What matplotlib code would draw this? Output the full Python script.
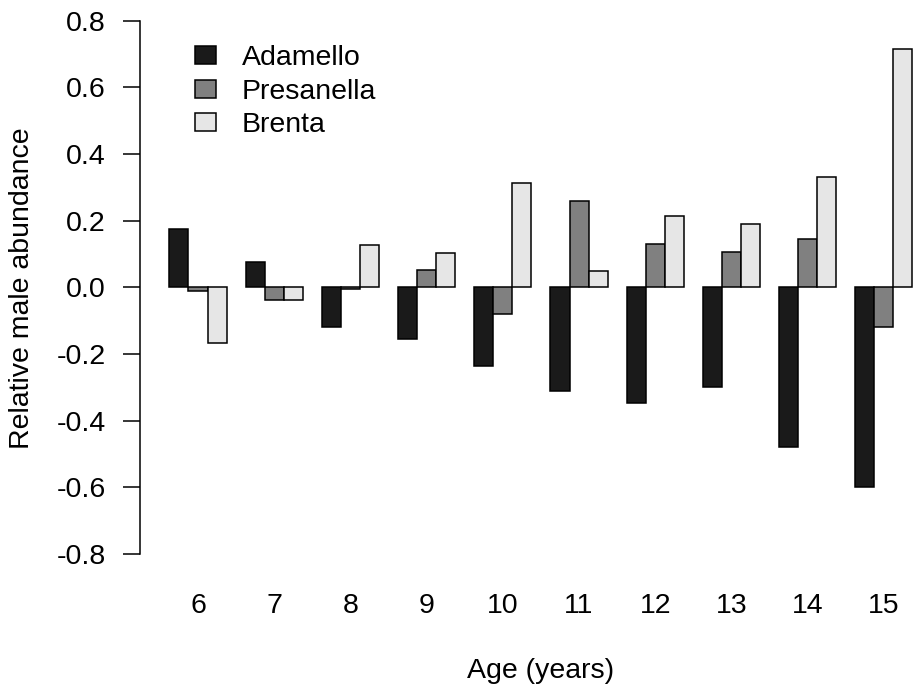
import numpy as np
import matplotlib
matplotlib.use("Agg")
import matplotlib.pyplot as plt
from matplotlib.patches import Patch

plt.rcParams['font.family'] = ['Liberation Sans', 'DejaVu Sans']

ages = [6, 7, 8, 9, 10, 11, 12, 13, 14, 15]
adamello = [0.176, 0.076, -0.12, -0.155, -0.236, -0.31, -0.347, -0.299, -0.478, -0.598]
presanella = [-0.01, -0.038, -0.006, 0.052, -0.081, 0.258, 0.13, 0.106, 0.144, -0.119]
brenta = [-0.166, -0.038, 0.126, 0.102, 0.314, 0.048, 0.214, 0.191, 0.332, 0.714]
series = ["Adamello", "Presanella", "Brenta"]
colors = ["#1a1a1a", "#808080", "#e6e6e6"]
yticks = [-0.8, -0.6, -0.4, -0.2, 0.0, 0.2, 0.4, 0.6, 0.8]

fs = 20.5

fig = plt.figure(figsize=(9.13, 6.93), dpi=100)
# y: 0.8 at px 20.7, 0 at px 287.3 -> 333.3 px per unit
ylo, yhi = -0.85, 0.85
top_px = 287.3 - yhi * 333.3
bot_px = 287.3 - ylo * 333.3
h_px = bot_px - top_px
ax = fig.add_axes([140 / 913, 1 - bot_px / 693, 1 - 140 / 913, h_px / 693])

g = np.arange(len(ages))
for i, (vals, name, c) in enumerate(zip([adamello, presanella, brenta], series, colors)):
    ax.bar(4 * g + 1 + i, vals, width=1, align='edge', color=c,
           edgecolor='black', linewidth=1.1, label=name)

ax.set_xlim(-0.545, 40.03)
ax.set_ylim(ylo, yhi)

ax.spines['top'].set_visible(False)
ax.spines['right'].set_visible(False)
ax.spines['bottom'].set_visible(False)
ax.spines['left'].set_bounds(-0.8, 0.8)
ax.spines['left'].set_linewidth(1.1)

ax.set_yticks(yticks)
ax.set_yticklabels(["%.1f" % v for v in yticks], fontsize=fs)
ax.tick_params(axis='y', length=12.5, width=1.1, pad=12)

ax.set_xticks(4 * g + 2.5)
ax.set_xticklabels([str(a) for a in ages], fontsize=fs)
ax.tick_params(axis='x', length=0, pad=16)

ax.set_ylabel("Relative male abundance", fontsize=fs, va='center')
ax.yaxis.set_label_coords((22 - 140) / 773, (bot_px - 288) / h_px)
ax.set_xlabel("Age (years)", fontsize=fs, va='center')
ax.xaxis.set_label_coords((541 - 140) / 773, (bot_px - 671) / h_px)

handles = [Patch(facecolor=c, edgecolor='black', linewidth=1.1) for c in colors]
ax.legend(handles, series, loc='upper left', bbox_to_anchor=(195 / 913, 1 - 45 / 693),
          bbox_transform=fig.transFigure, frameon=False, fontsize=fs,
          handlelength=0.74, handleheight=0.6, handletextpad=0.9, labelspacing=0.27,
          borderpad=0, borderaxespad=0)

fig.savefig("out.png", dpi=100)
